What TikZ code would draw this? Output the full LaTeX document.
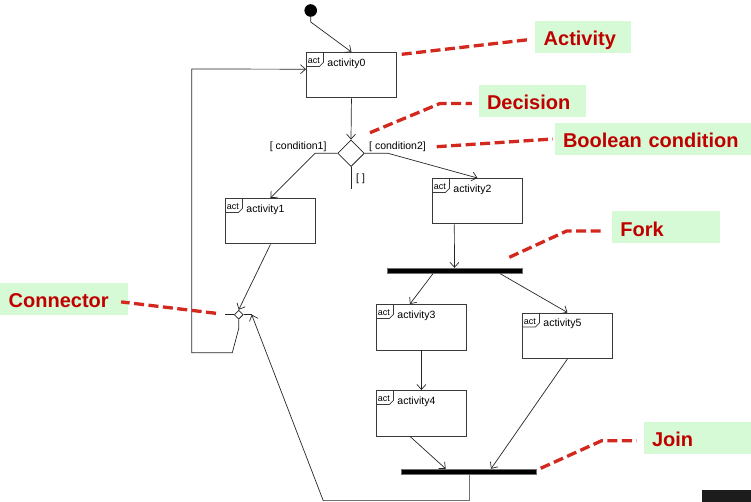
\documentclass[tikz,border=0pt]{standalone}
\usepackage{fontspec}
\setmainfont{Liberation Sans}
\usetikzlibrary{shapes.geometric,arrows.meta}

\definecolor{linegray}{HTML}{262626}
\definecolor{boxgray}{HTML}{3A3A3A}
\definecolor{bargray}{HTML}{707070}
\definecolor{calloutred}{HTML}{D3281E}
\definecolor{labelred}{HTML}{C00000}
\definecolor{labelgreen}{HTML}{D6FAD6}
\definecolor{darkbox}{HTML}{1C1C1C}

\tikzset{
  flow/.style={draw=linegray, line width=0.7pt, -{Straight Barb[length=5pt,width=9pt]}},
  plain/.style={draw=linegray, line width=0.7pt},
  actbox/.style={draw=boxgray, line width=0.9pt, rectangle, anchor=north west,
    inner sep=0pt, text width=90pt, minimum width=90pt, minimum height=45.5pt,
    text height=14pt, text depth=31.5pt, align=left,
    font=\fontsize{10.5}{12}\selectfont,
    path picture={
      \draw[boxgray, line width=0.7pt]
        ([yshift=-14pt]path picture bounding box.north west) -- ++(13pt,0pt)
        -- ++(4pt,4pt) -- ([xshift=17pt]path picture bounding box.north west);
      \node[anchor=base west, inner sep=0pt, font=\fontsize{9}{9}\selectfont]
        at ([shift={(1pt,-11.5pt)}]path picture bounding box.north west) {act};
    }},
  bar/.style={draw=bargray, fill=black, line width=0.8pt, rectangle,
    minimum width=135pt, minimum height=5pt, inner sep=0pt},
  decision/.style={draw=linegray, line width=0.8pt, diamond, inner sep=0pt,
    minimum width=26.6pt, minimum height=26.6pt},
  merge/.style={draw=linegray, line width=0.8pt, diamond, inner sep=0pt,
    minimum width=9pt, minimum height=9pt},
  guard/.style={inner sep=0pt, font=\fontsize{10.5}{12}\selectfont},
  note/.style={fill=labelgreen, text=labelred, anchor=north west,
    font=\bfseries\fontsize{20}{20}\selectfont, inner xsep=8.5pt, inner ysep=0pt,
    minimum height=32pt, text height=18pt, text depth=0pt, align=left},
  pointer/.style={draw=calloutred, line width=3.3pt, dash pattern=on 10pt off 4.5pt}
}

\newcommand{\actname}[1]{\hspace*{21pt}#1}

\begin{document}
\begin{tikzpicture}[x=1pt, y=-1pt]
  \useasboundingbox (0,0) rectangle (751,502);

  % initial state
  \node[circle, fill=black, inner sep=0pt, minimum size=12.6pt] (init) at (310.7,10.5) {};

  % activities
  \node[actbox] (a0) at (306,52)    {\actname{activity0}};
  \node[actbox] (a1) at (225,198)   {\actname{activity1}};
  \node[actbox] (a2) at (432,178)   {\actname{activity2}};
  \node[actbox] (a3) at (376,304)   {\actname{activity3}};
  \node[actbox] (a4) at (376,390)   {\actname{activity4}};
  \node[actbox] (a5) at (522,312.5) {\actname{activity5}};

  % decision, merge connector, fork and join
  \node[decision] (dec) at (351,153.3) {};
  \node[merge] (conn) at (238.7,314.7) {};
  \node[bar] (fork) at (454.5,270.7) {};
  \node[bar] (join) at (469.2,471.7) {};

  % guards
  \node[guard, anchor=base east] (g1) at (326.7,149.3) {[ condition1]};
  \node[guard, anchor=base west] (g2) at (369,149.3) {[ condition2]};
  \node[guard, anchor=base west] (g3) at (356,181.7) {[ ]};

  % helper points
  \coordinate (decL) at (315,153.3);
  \coordinate (decR) at (388,153.3);
  \coordinate (decEnd) at (351,189);
  \coordinate (connL) at (225,314.7);
  \coordinate (connR) at (251.7,314.7);

  % control flow
  \draw[flow] (init.south) -- ++(0,5) -- (a0.north);
  \draw[flow] (a0.south) -- (dec.north);
  \draw[flow] (dec.west) -- (decL) -- (a1.north);
  \draw[flow] (dec.east) -- (decR) -- (a2.north);
  \draw[plain] (dec.south) -- (decEnd);
  \draw[flow] (a1.south) -- (conn.north);
  \draw[plain] (conn.west) -- (connL);
  \draw[plain] (conn.east) -- (connR);
  \draw[flow] (conn.south) -- ++(0,9) -- (232.3,352.7) -- (191.7,352.7)
    -- (191.7,69) -- ([yshift=6pt]a0.west);
  \draw[flow] ([xshift=22.3pt]a2.south west) -- (fork.north);
  \draw[flow] ([xshift=-21.5pt]fork.south) -- ([xshift=-11.5pt]a3.north);
  \draw[flow] ([xshift=45.5pt]fork.south) -- (a5.north);
  \draw[flow] (a3.south) -- (a4.north);
  \draw[flow] ([xshift=-11.5pt]a4.south) -- ([xshift=-23.5pt]join.north);
  \draw[flow] (a5.south) -- ([xshift=21.8pt]join.north);
  \draw[draw=bargray, line width=0.8pt] (join.south) -- (469.2,500.8) -- (323.3,500.8);
  \draw[flow] (323.3,500.8) -- (connR);

  % annotations
  \node[note, text width=79pt]    (lblAct)  at (535,20.7)    {Activity};
  \node[note, text width=90.7pt]  (lblDec)  at (478.3,84.7)  {Decision};
  \node[note, text width=179.7pt] (lblBool) at (554.3,122.7) {Boolean condition};
  \node[note, text width=91.3pt]  (lblFork) at (611.7,211)   {Fork};
  \node[note, text width=90.7pt]  (lblJoin) at (643.3,421.7) {Join};
  \node[note, text width=110.3pt] (lblConn) at (0,282.3)     {Connector};

  \coordinate (tipAct)  at (401.7,54.3);
  \coordinate (tipDec)  at (370,132.7);
  \coordinate (bendDec) at (440,103.5);
  \coordinate (tipBool) at (436.7,146.7);
  \coordinate (tipFork) at (509.3,257.3);
  \coordinate (bendFork) at (566.7,231);
  \coordinate (tipJoin) at (540.7,468.3);
  \coordinate (bendJoin) at (601.7,440.7);
  \coordinate (tipConn) at (216,313.3);

  \draw[pointer, shorten >=6pt] (tipAct) -- ([yshift=-2pt]lblAct.west);
  \draw[pointer, shorten >=6.5pt] (tipDec) -- (bendDec) -- (lblDec.west |- bendDec);
  \draw[pointer, shorten >=1.5pt] (tipBool) -- (lblBool.west);
  \draw[pointer, shorten >=6.7pt] (tipFork) -- (bendFork) -- (lblFork.west |- bendFork);
  \draw[pointer, shorten >=6.6pt] (tipJoin) -- (bendJoin) -- (lblJoin.west |- bendJoin);
  \draw[pointer] (tipConn) -- ([shift={(-6.6pt,-3.4pt)}]lblConn.east);

  % dark tab in the lower right corner
  \fill[darkbox] (701.7,490) rectangle (751,502);
\end{tikzpicture}
\end{document}
